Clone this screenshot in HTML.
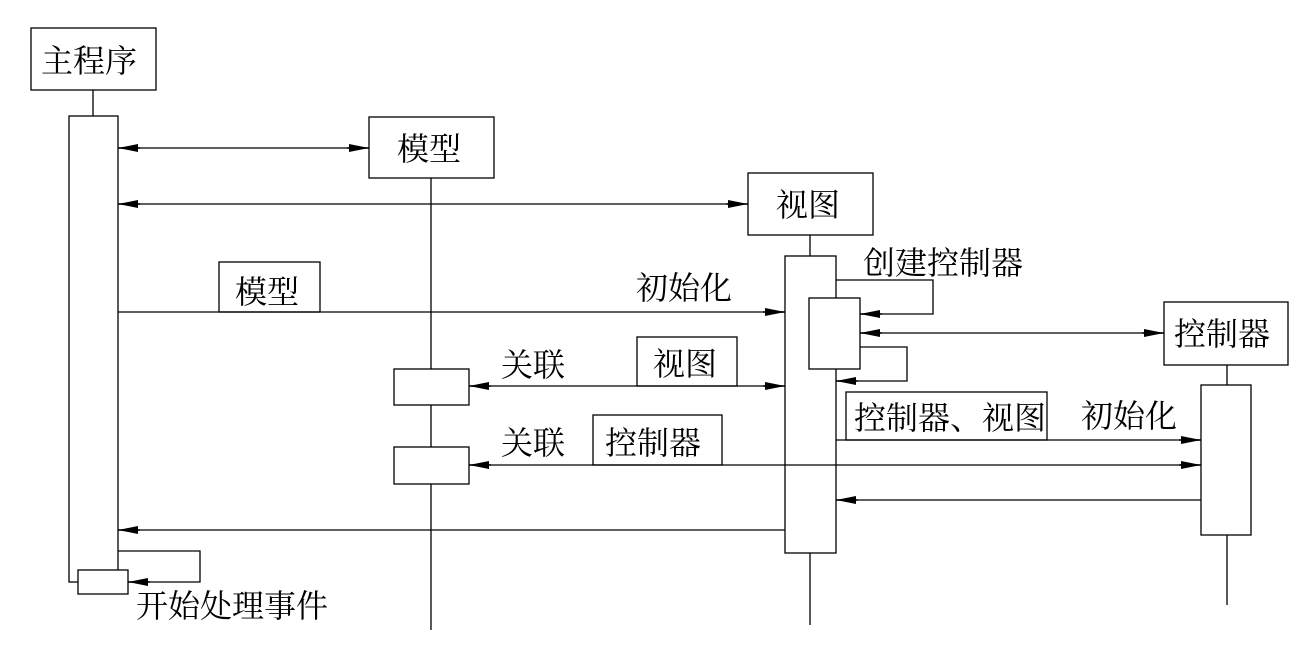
<!DOCTYPE html>
<html><head><meta charset="utf-8"><style>
html,body{margin:0;padding:0;background:#fff}
svg text{font-family:"Liberation Serif","Noto Serif CJK SC","Noto Sans CJK SC",serif;font-size:32px;fill:#000}
</style></head><body>
<svg width="1314" height="661" viewBox="0 0 1314 661" xmlns="http://www.w3.org/2000/svg">
<defs>
<marker id="a" markerUnits="userSpaceOnUse" markerWidth="26" markerHeight="12" refX="24" refY="6" orient="auto">
<path d="M2,6 L24,6" stroke="#000" stroke-width="1.5"/>
<path d="M4,2 L24,6 L4,10 Z" fill="#000"/>
</marker>
<marker id="b" markerUnits="userSpaceOnUse" markerWidth="26" markerHeight="12" refX="2" refY="6" orient="auto">
<path d="M2,6 L24,6" stroke="#000" stroke-width="1.5"/>
<path d="M22,2 L2,6 L22,10 Z" fill="#000"/>
</marker>
</defs>
<g fill="#fff" stroke="#000" stroke-width="1.3">
<!-- lifelines -->
<line x1="93" y1="90" x2="93" y2="116"/>
<line x1="431" y1="178" x2="431" y2="630"/>
<line x1="810" y1="235" x2="810" y2="625"/>
<line x1="1227" y1="365" x2="1227" y2="605"/>
<!-- heads -->
<rect x="31" y="28" width="125" height="62"/>
<rect x="369" y="117" width="125" height="61"/>
<rect x="748" y="173" width="125" height="62"/>
<rect x="1164" y="302" width="124" height="63"/>
<!-- activations -->
<rect x="69" y="116" width="49" height="466"/>
<rect x="394" y="369" width="75" height="36"/>
<rect x="394" y="447" width="75" height="37"/>
<rect x="785" y="256" width="51" height="297"/>
<rect x="809" y="298" width="51" height="71"/>
<rect x="1201" y="385" width="50" height="150"/>
<rect x="78" y="570" width="50" height="24"/>
<!-- label boxes -->
<rect x="219" y="262" width="101" height="50"/>
<rect x="637" y="337" width="100" height="49"/>
<rect x="593" y="415" width="129" height="50"/>
<rect x="846" y="392" width="201" height="48"/>
</g>
<g fill="none" stroke="#000" stroke-width="1.3">
<line x1="118" y1="148" x2="369" y2="148" marker-start="url(#b)" marker-end="url(#a)"/>
<line x1="118" y1="204" x2="748" y2="204" marker-start="url(#b)" marker-end="url(#a)"/>
<line x1="118" y1="312" x2="785" y2="312" marker-end="url(#a)"/>
<polyline points="836,280 933,280 933,314 860,314" marker-end="url(#a)"/>
<line x1="860" y1="333" x2="1164" y2="333" marker-start="url(#b)" marker-end="url(#a)"/>
<polyline points="860,347 907,347 907,381 836,381" marker-end="url(#a)"/>
<line x1="469" y1="386" x2="785" y2="386" marker-start="url(#b)" marker-end="url(#a)"/>
<line x1="836" y1="440" x2="1201" y2="440" marker-end="url(#a)"/>
<line x1="469" y1="465" x2="1201" y2="465" marker-start="url(#b)" marker-end="url(#a)"/>
<line x1="1201" y1="500" x2="836" y2="500" marker-end="url(#a)"/>
<line x1="785" y1="530" x2="118" y2="530" marker-end="url(#a)"/>
<polyline points="118,551 200,551 200,582 128,582" marker-end="url(#a)"/>
</g>
<text x="41" y="72">主程序</text>
<text x="397" y="160">模型</text>
<text x="776" y="216">视图</text>
<text x="1174" y="345">控制器</text>
<text x="235" y="303">模型</text>
<text x="636" y="299">初始化</text>
<text x="863" y="274">创建控制器</text>
<text x="501" y="376">关联</text>
<text x="653" y="375">视图</text>
<text x="501" y="454">关联</text>
<text x="605" y="454">控制器</text>
<text x="854" y="429">控制器、视图</text>
<text x="1081" y="427">初始化</text>
<text x="136" y="617">开始处理事件</text>
</svg>
</body></html>
